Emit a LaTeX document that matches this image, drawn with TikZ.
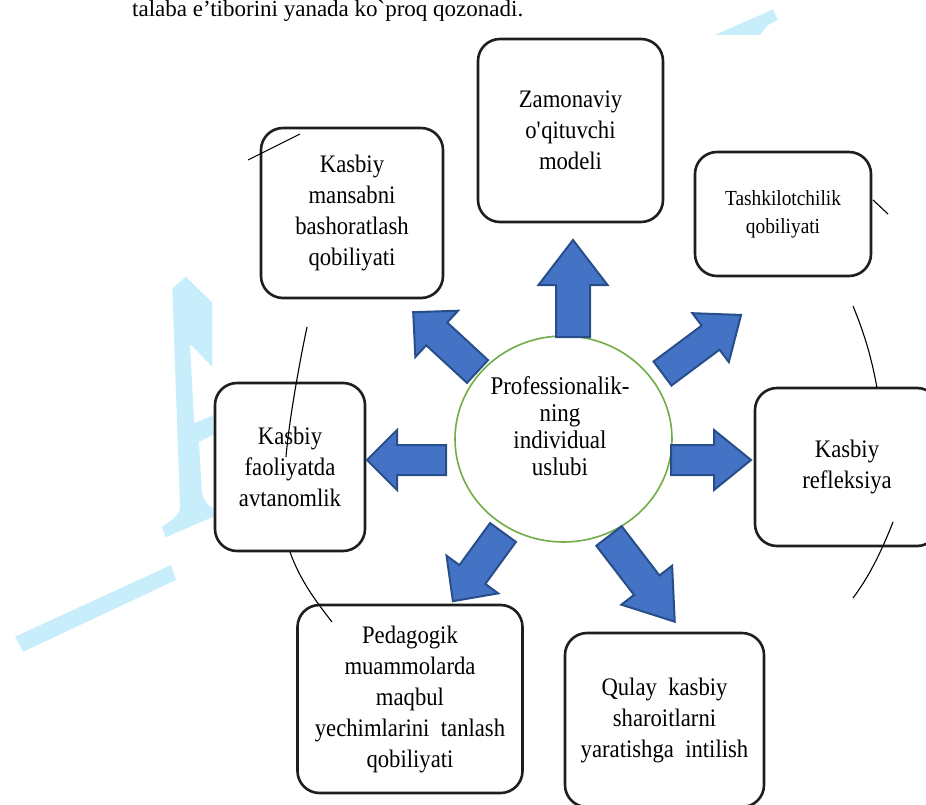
\documentclass[tikz,border=0pt]{standalone}
\usepackage{fontspec}
\setmainfont{Liberation Serif}
\newfontfamily\narrowserif{Liberation Serif}[FakeStretch=0.9]
\usetikzlibrary{positioning, calc, shapes.geometric}

\definecolor{wmark}{RGB}{200,238,252}
\definecolor{arrowfill}{RGB}{68,114,196}
\definecolor{arrowline}{RGB}{40,78,138}
\definecolor{ringgreen}{RGB}{112,173,71}
\definecolor{boxline}{RGB}{30,30,30}

\newcommand{\boxfont}{\narrowserif\fontsize{25.2}{31}\selectfont}

% block arrow: tail x, tail y, angle, length, head length, shaft half, head half
\newcommand{\blockarrow}[7]{%
  \begin{scope}[shift={(#1,#2)}, rotate=#3]
    \filldraw[blockstyle] (0,-#6) -- (#4-#5,-#6) -- (#4-#5,-#7) -- (#4,0)
      -- (#4-#5,#7) -- (#4-#5,#6) -- (0,#6) -- cycle;
  \end{scope}}

\begin{document}
\begin{tikzpicture}[x=1pt, y=-1pt,
    blockstyle/.style={fill=arrowfill, draw=arrowline, line width=2pt, line join=miter},
    topicbox/.style={draw=boxline, line width=2.6pt, rounded corners=22pt, fill=white,
                     align=center, inner sep=0pt, font=\boxfont},
    ringline/.style={black, line width=1.1pt}]
    \useasboundingbox (0,0) rectangle (926,805);

    % watermark pieces behind everything
    \fill[wmark] (172.3,288.3) -- (186,276.7) -- (212.3,302.7) -- (212.3,366.7)
        -- (190,344) -- (194.3,423.3) -- (213.3,415) -- (213.3,435) -- (199,441.7)
        -- (201.7,490) .. controls (203,500) and (208,506) .. (213.3,508)
        -- (213.3,516.7) -- (165.7,537.3) -- (161.7,526.7)
        .. controls (172,520) and (180,515) .. (180,506.7) -- cycle;
    \fill[wmark] (15,636.7) -- (23.3,651.7) -- (176,580) -- (171,565) -- cycle;
    \fill[wmark] (715,35) -- (773,9.3) -- (777.7,20) -- (768,25) -- (760,35) -- cycle;

    % last line of the text above
    \node[anchor=base west, inner sep=0pt, font=\fontsize{23}{28}\selectfont] (lead) at (132,17)
        {talaba e’tiborini yanada ko\textasciigrave proq qozonadi.};

    % the seven boxes
    \node[topicbox, minimum width=182pt, minimum height=170pt] (forecast) at (352,213)
        {Kasbiy\\mansabni\\bashoratlash\\qobiliyati};
    \node[topicbox, minimum width=185pt, minimum height=183pt] (model) at (570.5,130.5)
        {Zamonaviy\\o\textquotesingle qituvchi\\modeli};
    \node[topicbox, minimum width=176pt, minimum height=124pt,
          font=\narrowserif\fontsize{21.5}{28}\selectfont] (organise) at (783,214)
        {Tashkilotchilik\\qobiliyati};
    \node[topicbox, minimum width=184pt, minimum height=158pt] (reflect) at (847,467)
        {Kasbiy\\refleksiya};
    \node[topicbox, minimum width=150pt, minimum height=168pt] (autonomy) at (290,467)
        {Kasbiy\\faoliyatda\\avtanomlik};
    \node[topicbox, minimum width=225pt, minimum height=188pt] (choice) at (410,699)
        {Pedagogik\\muammolarda\\maqbul\\yechimlarini~~tanlash\\qobiliyati};
    \node[topicbox, minimum width=199pt, minimum height=174pt] (comfort) at (664.5,720)
        {Qulay~~kasbiy\\sharoitlarni\\yaratishga~~intilish};

    % centre circle
    \node[ellipse, draw=ringgreen, line width=1.6pt, fill=white, inner sep=0pt,
          minimum width=217pt, minimum height=206pt] (core) at (563.5,439) {};
    \node[align=center, font=\narrowserif\fontsize{25.5}{27}\selectfont] (coretext) at (560,426)
        {Professionalik-\\ning\\individual\\uslubi};

    % arrows going out of the circle
    \blockarrow{573}{337}{90}{97}{45}{17}{34.5}
    \blockarrow{671}{460}{0}{80}{37}{15}{30}
    \blockarrow{446}{460}{180}{79}{30}{15}{30}
    \blockarrow{477.5}{371.5}{137.3}{87.5}{32}{15.5}{31.5}
    \blockarrow{662.5}{373.5}{36.7}{98}{38}{15}{30.5}
    \blockarrow{503}{532.5}{233.9}{85}{33}{16}{32}
    \blockarrow{609}{536}{-52.5}{108}{46}{16}{32}

    % pieces of the big ring, on top
    \draw[ringline] (248,160) -- (300,134);
    \draw[ringline] (307,327) .. controls (300,360) and (289,420) .. (286,457);
    \draw[ringline] (290,552) .. controls (300,580) and (315,600) .. (332,622);
    \draw[ringline] (873,200) -- (888,214);
    \draw[ringline] (853,306) .. controls (865,335) and (872,360) .. (877,388);
    \draw[ringline] (893,522) .. controls (880,555) and (868,578) .. (853,598);
\end{tikzpicture}
\end{document}
